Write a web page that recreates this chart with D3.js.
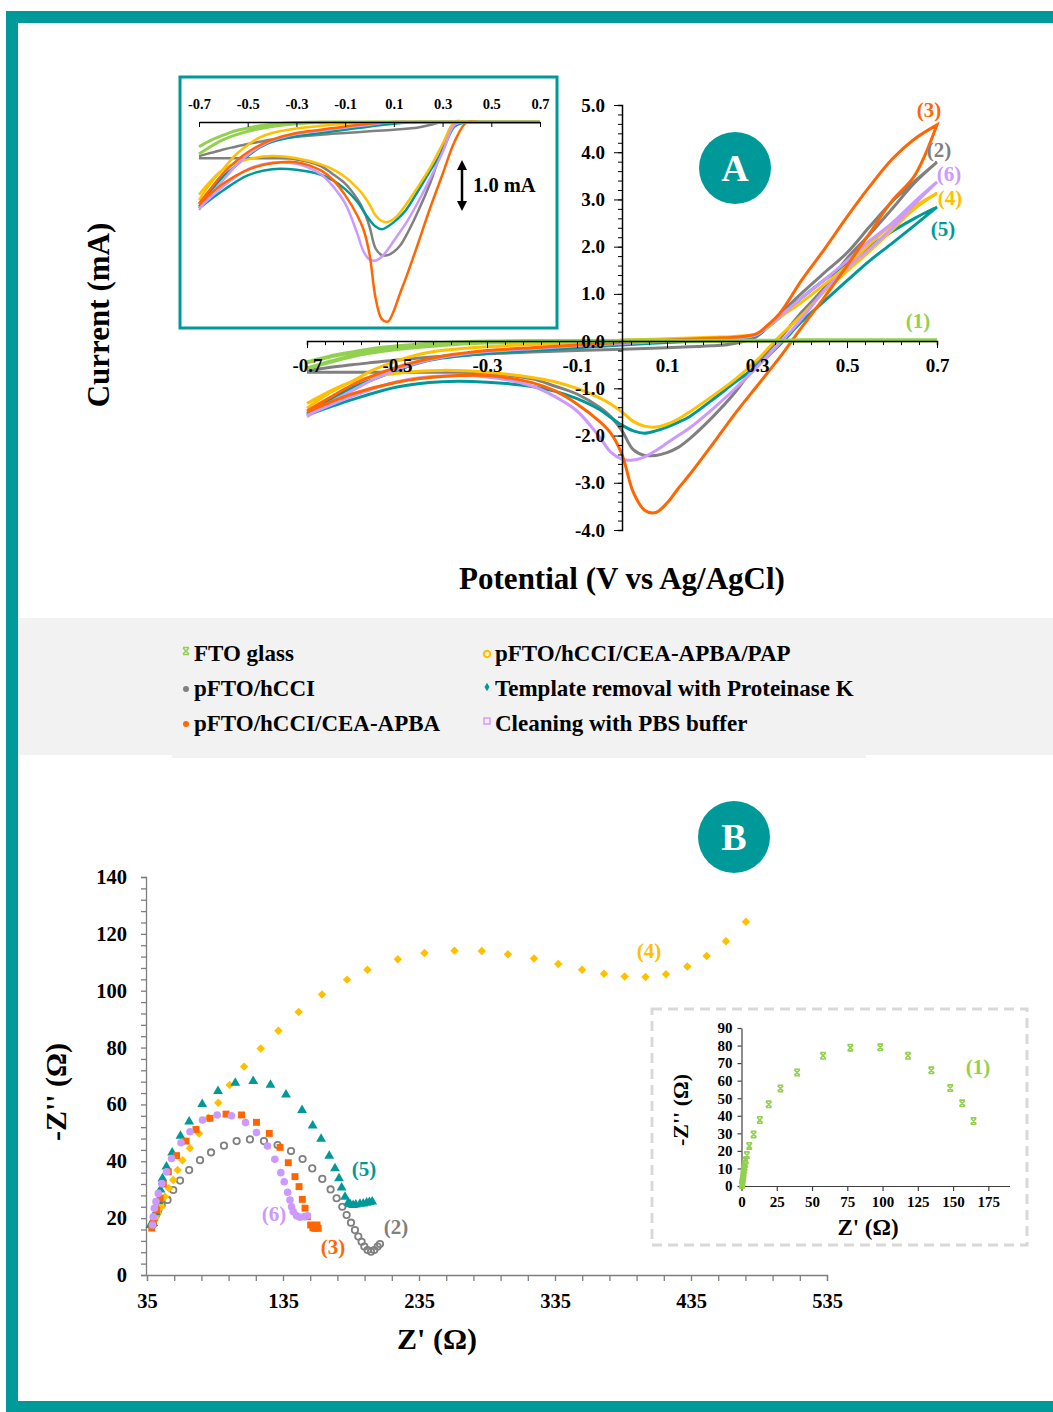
<!DOCTYPE html>
<html>
<head>
  <meta charset="utf-8">
  <script src="https://d3js.org/d3.v7.min.js"></script>
  <style>
    body { margin: 0; background: #fff; }
    text { font-family: "Liberation Serif", "Times New Roman", serif; font-weight: bold; }
  </style>
</head>
<body>
  <script>
    // ---- CV data (potential in V, current in mA) ----
    const cvFwdV = [-0.7,-0.65,-0.6,-0.55,-0.5,-0.45,-0.4,-0.3,-0.2,-0.1,0,0.1,0.2,0.25,0.3,0.325,0.35,0.4,0.45,0.5,0.55,0.6,0.65,0.7];
    const cvRevV = [0.7,0.65,0.6,0.55,0.5,0.45,0.4,0.35,0.3,0.25,0.2,0.15,0.125,0.1,0.075,0.05,0.025,0,-0.025,-0.05,-0.1,-0.15,-0.2,-0.3,-0.4,-0.5,-0.6,-0.7];

    const fwdFTO = [-0.45,-0.33,-0.24,-0.16,-0.11,-0.07,-0.04,-0.01,0,0,0.01,0.01,0.01,0.01,0.01,0.01,0.01,0.01,0.02,0.02,0.02,0.02,0.02,0.02];
    const revFTO = [0.02,0.02,0.02,0.02,0.02,0.02,0.02,0.01,0.01,0.01,0.01,0.01,0.01,0.01,0.01,0.01,0.01,0.01,0,0,0,0,-0.01,-0.03,-0.08,-0.17,-0.32,-0.58];
    const fwdHCCI = [-0.62,-0.56,-0.5,-0.45,-0.4,-0.36,-0.32,-0.27,-0.23,-0.2,-0.17,-0.14,-0.1,-0.05,0.1,0.33,0.56,1.02,1.45,1.87,2.42,2.95,3.38,3.79];
    const revHCCI = [3.79,3.35,2.8,2.26,1.75,1.13,0.62,0.05,-0.47,-1.1,-1.62,-2.07,-2.25,-2.36,-2.42,-2.42,-2.3,-1.9,-1.6,-1.4,-1.12,-0.95,-0.8,-0.68,-0.66,-0.66,-0.66,-0.66];
    const fwdAPBA = [-1.48,-1.2,-0.93,-0.72,-0.55,-0.42,-0.32,-0.2,-0.14,-0.08,-0.03,0.02,0.06,0.08,0.16,0.35,0.58,1.3,1.95,2.63,3.27,3.85,4.28,4.58];
    const revAPBA = [4.58,3.5,2.97,2.28,1.6,0.93,0.3,-0.35,-0.95,-1.55,-2.2,-2.83,-3.12,-3.43,-3.63,-3.58,-3.2,-2.4,-1.95,-1.7,-1.33,-1.05,-0.88,-0.73,-0.75,-0.87,-1.12,-1.5];
    const fwdPAP = [-1.42,-1.1,-0.85,-0.6,-0.42,-0.28,-0.2,-0.12,-0.07,-0.03,0.02,0.05,0.08,0.1,0.15,0.3,0.5,0.83,1.2,1.6,2.05,2.48,2.85,3.13];
    const revPAP = [3.13,2.8,2.35,1.9,1.48,1.05,0.55,0.1,-0.4,-0.82,-1.17,-1.5,-1.65,-1.76,-1.82,-1.8,-1.7,-1.5,-1.33,-1.2,-1.0,-0.86,-0.77,-0.66,-0.62,-0.68,-0.86,-1.32];
    const fwdProtK = [-1.54,-1.25,-0.99,-0.8,-0.62,-0.46,-0.36,-0.26,-0.2,-0.14,-0.08,-0.03,0.02,0.05,0.12,0.3,0.5,0.92,1.3,1.65,2.0,2.32,2.6,2.84];
    const revProtK = [2.84,2.45,2.07,1.7,1.28,0.85,0.42,-0.08,-0.52,-0.88,-1.25,-1.6,-1.72,-1.82,-1.9,-1.95,-1.9,-1.78,-1.62,-1.45,-1.22,-1.06,-0.96,-0.87,-0.86,-0.97,-1.24,-1.57];
    const fwdPBS = [-1.6,-1.3,-1.05,-0.8,-0.6,-0.45,-0.34,-0.22,-0.16,-0.1,-0.05,0,0.04,0.06,0.14,0.32,0.52,0.92,1.3,1.7,2.12,2.5,2.95,3.37];
    const revPBS = [3.37,2.9,2.4,1.95,1.55,1.08,0.48,-0.05,-0.55,-1.02,-1.45,-1.84,-2.0,-2.16,-2.32,-2.45,-2.52,-2.5,-2.35,-2.03,-1.48,-1.17,-0.95,-0.76,-0.74,-0.86,-1.17,-1.57];

    const cvTicksX = [-0.7,-0.5,-0.3,-0.1,0.1,0.3,0.5,0.7];
    const cvTicksY = [-4,-3,-2,-1,0,1,2,3,4,5];

    // ---- EIS data (Z', -Z'' in ohm) ----
    const eisFTO = [[0.3,0.5],[0.5,1.5],[0.7,2.6],[0.9,3.7],[1.1,4.9],[1.3,6.2],[1.5,7.6],[1.8,9.1],[2.1,10.7],[2.5,12.5],[3.0,14.5],[3.8,17.6],[5.5,22.8],[8.6,29.4],[13,37.6],[19.3,46.5],[27.6,55.6],[39.4,64.7],[57.8,74.2],[77.2,78.8],[98.4,79.0],[118,74.2],[134.6,65.9],[148,55.8],[156.5,47.1],[164.5,37.0]];
    const eisHCCI = [[39.1,17.6],[40.4,19.9],[41.6,21.1],[43.3,22.9],[45.8,24.6],[50.1,26.4],[54.3,29.9],[59.3,33.2],[66.0,36.9],[74.0,40.4],[82.1,43.1],[91.6,45.5],[100.9,47.1],[110.7,47.7],[121.0,47.1],[131.0,45.7],[140.9,43.6],[149.4,40.8],[156.5,37.5],[163.9,33.8],[170.0,30.1],[174.4,27.0],[178.6,24.0],[181.8,21.1],[185.0,18.4],[187.9,15.8],[190.4,13.5],[192.8,11.7],[194.8,10.0],[197.2,8.8],[199.7,8.2],[202.1,8.8],[204.6,10.0],[206.3,10.9]];
    const eisAPBA = [[38.5,16.5],[39.6,18.2],[42.1,22.9],[44.6,27.0],[47.0,32.0],[50.7,36.3],[56.7,42.0],[63.7,47.1],[71.0,51.2],[81.3,55.1],[93.1,56.6],[104.5,56.3],[115.5,53.7],[124.9,49.8],[132.8,44.9],[138.9,39.5],[143.8,34.6],[146.8,31.1],[149.2,26.6],[151.2,23.5],[152.9,20.5],[155.3,17.6],[157.0,16.6],[158.5,16.4],[160.9,16.4],[160.0,17.6]];
    const eisPAP = [[38.5,17.0],[39.6,18.7],[41.2,20.2],[43.3,21.7],[45.8,24.0],[48.2,27.5],[51.1,30.5],[54.3,33.4],[57.5,36.9],[61.1,40.4],[66.6,44.6],[73.3,49.8],[80.2,55.3],[87.4,60.6],[95.8,66.8],[106.4,73.3],[118.6,79.7],[131.6,85.9],[146.5,92.5],[163.7,98.7],[182.1,103.9],[197.1,107.4],[219.4,111.1],[239.0,113.3],[261.1,114.1],[281.2,114.0],[300.4,112.8],[319.6,111.3],[337.4,109.4],[354.9,107.4],[371.0,106.0],[386.2,105.0],[401.6,104.8],[416.6,105.8],[432.3,108.5],[446.5,112.2],[460.7,117.4],[475.4,124.3]];
    const eisProtK = [[37.5,17.5],[39.6,18.2],[41.5,22.0],[43.3,26.0],[44.9,30.0],[46.4,34.0],[49.3,38.1],[53.5,43.0],[59.6,48.9],[66.0,53.9],[75.6,60.1],[87.2,64.7],[99.9,67.6],[113.1,68.2],[125.8,66.9],[137.2,63.4],[149.0,58.0],[156.8,52.5],[163.0,47.9],[169.0,41.9],[173.2,37.5],[176.2,34.0],[178.1,30.7],[180.6,27.5],[183.0,25.4],[184.5,24.8],[186.6,24.6],[188.5,24.7],[191.6,25.0],[194.0,25.1],[196.5,25.4],[198.5,25.6],[200.6,25.8]];
    const eisPBS = [[39.1,17.6],[39.6,20.5],[40.4,23.5],[41.6,25.8],[43.3,28.7],[45.8,32.2],[49.4,36.3],[53.1,41.0],[60.0,46.5],[66.6,50.4],[75.8,54.5],[86.6,56.3],[97.1,56.0],[107.4,53.6],[115.5,50.1],[123.6,45.4],[129.0,40.7],[133.4,36.0],[135.9,32.8],[138.4,29.1],[140.1,26.4],[141.3,24.0],[142.5,22.3],[145.0,20.8],[147.5,20.3],[150.4,20.5],[152.9,20.8]];

    const eisTicksX = [35,135,235,335,435,535];
    const eisTicksY = [0,20,40,60,80,100,120,140];
    const insetTicksX = [0,25,50,75,100,125,150,175];
    const insetTicksY = [0,10,20,30,40,50,60,70,80,90];

    const legendNames = ["FTO glass","pFTO/hCCI","pFTO/hCCI/CEA-APBA","pFTO/hCCI/CEA-APBA/PAP","Template removal with Proteinase K","Cleaning with PBS buffer"];
    const colors = ["#92d050","#808080","#ff6600","#ffc000","#009999","#cc99ff"];
    const teal = "#009999";

    const cvSeries = [
      {id: 1, fwd: fwdFTO, rev: revFTO},
      {id: 2, fwd: fwdHCCI, rev: revHCCI},
      {id: 3, fwd: fwdAPBA, rev: revAPBA},
      {id: 4, fwd: fwdPAP, rev: revPAP},
      {id: 5, fwd: fwdProtK, rev: revProtK},
      {id: 6, fwd: fwdPBS, rev: revPBS}
    ].map(s => ({
      id: s.id,
      color: colors[s.id - 1],
      pts: cvFwdV.map((v, i) => [v, s.fwd[i]]).concat(cvRevV.map((v, i) => [v, s.rev[i]]))
    }));
    const drawOrder = [2, 5, 4, 6, 3, 1];

    // plain hyphen minus, like the original
    const fmt1 = d => d.toFixed(1);
    const boldText = g => g.selectAll("text").attr("fill", "#000")
      .style("font-family", "Liberation Serif").style("font-weight", "bold");

    const W = 1053, H = 1412;
    const svg = d3.select("body").append("svg")
      .attr("width", W).attr("height", H);

    svg.append("rect").attr("width", W).attr("height", H).attr("fill", "#fff");

    // frame
    svg.append("rect")
      .attr("x", 12).attr("y", 17).attr("width", W + 20).attr("height", 1390)
      .attr("fill", "none").attr("stroke", teal).attr("stroke-width", 12);

    // legend band
    svg.append("rect").attr("x", 18).attr("y", 618).attr("width", W - 18).attr("height", 137).attr("fill", "#f2f2f2");
    svg.append("rect").attr("x", 172).attr("y", 700).attr("width", 694).attr("height", 58).attr("fill", "#f2f2f2");

    // ================= Panel A: CV =================
    const xCV = d3.scaleLinear().domain([-0.7, 0.7]).range([307, 937]);
    const yCV = d3.scaleLinear().domain([-4, 5]).range([530, 105]);
    const lineCV = d3.line()
      .x(d => xCV(d[0])).y(d => yCV(d[1]))
      .curve(d3.curveCatmullRom.alpha(0.5));

    const gCV = svg.append("g");
    drawOrder.forEach(id => {
      const s = cvSeries[id - 1];
      gCV.append("path")
        .attr("d", lineCV(s.pts))
        .attr("fill", "none")
        .attr("stroke", s.color)
        .attr("stroke-width", id === 1 ? 4 : 3);
    });

    // x axis (at I = 0)
    const minorX = d3.range(-0.7, 0.7001, 0.04);
    svg.append("g")
      .attr("transform", `translate(0,${yCV(0)})`)
      .call(d3.axisBottom(xCV).tickValues(minorX).tickSize(4).tickFormat(""))
      .call(g => g.select(".domain").attr("stroke", "#000").attr("stroke-width", 1.5));
    svg.append("g")
      .attr("transform", `translate(0,${yCV(0)})`)
      .call(d3.axisBottom(xCV).tickValues(cvTicksX).tickSize(7).tickPadding(10).tickFormat(fmt1))
      .call(g => g.select(".domain").remove())
      .call(boldText)
      .call(g => g.selectAll("text").attr("font-size", 19));

    // y axis (at V = 0)
    const minorY = d3.range(-4, 5.001, 0.2);
    svg.append("g")
      .attr("transform", `translate(${xCV(0)},0)`)
      .call(d3.axisLeft(yCV).tickValues(minorY).tickSize(4).tickFormat(""))
      .call(g => g.select(".domain").attr("stroke", "#000").attr("stroke-width", 1.5));
    svg.append("g")
      .attr("transform", `translate(${xCV(0)},0)`)
      .call(d3.axisLeft(yCV).tickValues(cvTicksY).tickSize(8).tickPadding(9).tickFormat(fmt1))
      .call(g => g.select(".domain").remove())
      .call(boldText)
      .call(g => g.selectAll("text").attr("font-size", 19));

    svg.append("text")
      .attr("transform", "translate(109,315) rotate(-90)")
      .attr("text-anchor", "middle").attr("font-size", 31).text("Current (mA)");
    svg.append("text")
      .attr("x", 622).attr("y", 589)
      .attr("text-anchor", "middle").attr("font-size", 31).text("Potential (V vs Ag/AgCl)");

    // curve labels
    const cvLabels = [
      {id: 3, x: 929, y: 110}, {id: 2, x: 939, y: 150}, {id: 6, x: 949, y: 174},
      {id: 4, x: 950, y: 198}, {id: 5, x: 943, y: 229}, {id: 1, x: 918, y: 321}
    ];
    svg.selectAll(".cvlab").data(cvLabels).enter().append("text")
      .attr("x", d => d.x).attr("y", d => d.y + 7)
      .attr("text-anchor", "middle").attr("font-size", 21)
      .attr("fill", d => colors[d.id - 1])
      .text(d => `(${d.id})`);

    // badge A
    svg.append("circle").attr("cx", 735).attr("cy", 168).attr("r", 36).attr("fill", teal);
    svg.append("text").attr("x", 735).attr("y", 181).attr("text-anchor", "middle")
      .attr("font-size", 38).attr("fill", "#fff").text("A");

    // ---- inset CV ----
    svg.append("rect")
      .attr("x", 180).attr("y", 77).attr("width", 377).attr("height", 251)
      .attr("fill", "#fff").attr("stroke", teal).attr("stroke-width", 3);
    const xIn = d3.scaleLinear().domain([-0.7, 0.7]).range([199, 540]);
    const yIn = d3.scaleLinear().domain([-3.7, 0]).range([325.5, 122]);
    const lineIn = d3.line()
      .x(d => xIn(d[0])).y(d => yIn(Math.min(d[1], 0)))
      .curve(d3.curveCatmullRom.alpha(0.5));
    drawOrder.forEach(id => {
      const s = cvSeries[id - 1];
      svg.append("path")
        .attr("d", lineIn(s.pts))
        .attr("fill", "none")
        .attr("stroke", s.color)
        .attr("stroke-width", id === 1 ? 3 : 2.5);
    });
    svg.append("g")
      .attr("transform", `translate(0,${yIn(0)})`)
      .call(d3.axisTop(xIn).tickValues(cvTicksX).tickSizeInner(-5).tickSizeOuter(0).tickPadding(13).tickFormat(fmt1))
      .call(g => g.select(".domain").attr("stroke", "#000").attr("stroke-width", 1.5))
      .call(boldText)
      .call(g => g.selectAll("text").attr("font-size", 14.5));
    svg.append("defs").append("marker")
      .attr("id", "arr").attr("viewBox", "0 0 10 10").attr("refX", 5).attr("refY", 5)
      .attr("markerWidth", 4).attr("markerHeight", 4).attr("orient", "auto-start-reverse")
      .append("path").attr("d", "M0,0L10,5L0,10z").attr("fill", "#000");
    svg.append("line")
      .attr("x1", 462).attr("x2", 462).attr("y1", 165).attr("y2", 206)
      .attr("stroke", "#000").attr("stroke-width", 2.5)
      .attr("marker-start", "url(#arr)").attr("marker-end", "url(#arr)");
    svg.append("text").attr("x", 473).attr("y", 192).attr("font-size", 20.5).text("1.0 mA");

    // ================= Legend =================
    const legendPos = [
      {x: 186, y: 653}, {x: 186, y: 688}, {x: 186, y: 723},
      {x: 487, y: 653}, {x: 487, y: 688}, {x: 487, y: 723}
    ];
    const gLeg = svg.append("g");
    legendPos.forEach((p, i) => {
      const c = colors[i];
      if (i === 0) {
        gLeg.append("path").attr("transform", `translate(${p.x},${p.y - 2})`)
          .attr("d", "M-3,-3L3,3M-3,3L3,-3M-3,-3.5H3M-3,3.5H3")
          .attr("stroke", c).attr("stroke-width", 1.6).attr("fill", "none");
      } else if (i === 1 || i === 2) {
        gLeg.append("circle").attr("cx", p.x).attr("cy", p.y + 1).attr("r", 3).attr("fill", c);
      } else if (i === 3) {
        gLeg.append("circle").attr("cx", p.x).attr("cy", p.y + 1).attr("r", 3.2)
          .attr("fill", "#fff3c0").attr("stroke", c).attr("stroke-width", 2);
      } else if (i === 4) {
        gLeg.append("path").attr("transform", `translate(${p.x},${p.y - 1})`)
          .attr("d", d3.symbol(d3.symbolDiamond, 22)()).attr("fill", c);
      } else {
        gLeg.append("rect").attr("x", p.x - 3).attr("y", p.y - 5).attr("width", 6).attr("height", 6)
          .attr("fill", "#f6eeff").attr("stroke", c).attr("stroke-width", 1.4);
      }
      gLeg.append("text").attr("x", p.x + 8).attr("y", p.y + 8)
        .attr("font-size", 23).attr("fill", "#000").text(legendNames[i]);
    });

    // ================= Panel B: Nyquist =================
    svg.append("circle").attr("cx", 734).attr("cy", 837).attr("r", 36).attr("fill", teal);
    svg.append("text").attr("x", 734).attr("y", 850).attr("text-anchor", "middle")
      .attr("font-size", 38).attr("fill", "#fff").text("B");

    const xN = d3.scaleLinear().domain([35, 535]).range([147, 827]);
    const yN = d3.scaleLinear().domain([0, 140]).range([1275, 877]);
    const axisGray = "#7f7f7f";

    svg.append("g")
      .attr("transform", `translate(0,${yN(0)})`)
      .call(d3.axisBottom(xN).tickValues(d3.range(35, 536, 20)).tickSize(6).tickFormat(""))
      .call(g => g.selectAll("line,path").attr("stroke", axisGray).attr("stroke-width", 1.3));
    svg.append("g")
      .attr("transform", `translate(0,${yN(0)})`)
      .call(d3.axisBottom(xN).tickValues(eisTicksX).tickSize(0).tickPadding(18))
      .call(g => g.select(".domain").remove())
      .call(boldText)
      .call(g => g.selectAll("text").attr("font-size", 20.5));
    svg.append("g")
      .attr("transform", `translate(${xN(35) - 1},0)`)
      .call(d3.axisLeft(yN).tickValues(d3.range(0, 141, 4)).tickSize(5).tickFormat(""))
      .call(g => g.selectAll("line,path").attr("stroke", axisGray).attr("stroke-width", 1.3));
    svg.append("g")
      .attr("transform", `translate(${xN(35) - 1},0)`)
      .call(d3.axisLeft(yN).tickValues(eisTicksY).tickSize(0).tickPadding(19))
      .call(g => g.select(".domain").remove())
      .call(boldText)
      .call(g => g.selectAll("text").attr("font-size", 20.5));

    svg.append("text")
      .attr("transform", "translate(66,1092) rotate(-90)")
      .attr("text-anchor", "middle").attr("font-size", 30).text("-Z'' (Ω)");
    svg.append("text")
      .attr("x", 437).attr("y", 1349)
      .attr("text-anchor", "middle").attr("font-size", 30).text("Z' (Ω)");

    const gN = svg.append("g");
    // (2) open circles
    gN.selectAll(".p2").data(eisHCCI).enter().append("circle")
      .attr("cx", d => xN(d[0])).attr("cy", d => yN(d[1])).attr("r", 3.2)
      .attr("fill", "none").attr("stroke", colors[1]).attr("stroke-width", 1.8);
    // (4) diamonds
    gN.selectAll(".p4").data(eisPAP).enter().append("path")
      .attr("transform", d => `translate(${xN(d[0])},${yN(d[1])}) rotate(45)`)
      .attr("d", d3.symbol(d3.symbolSquare, 36)()).attr("fill", colors[3]);
    // (5) triangles
    gN.selectAll(".p5").data(eisProtK).enter().append("path")
      .attr("transform", d => `translate(${xN(d[0])},${yN(d[1])})`)
      .attr("d", d3.symbol(d3.symbolTriangle, 42)()).attr("fill", colors[4]);
    // (3) squares
    gN.selectAll(".p3").data(eisAPBA).enter().append("path")
      .attr("transform", d => `translate(${xN(d[0])},${yN(d[1])})`)
      .attr("d", d3.symbol(d3.symbolSquare, 48)()).attr("fill", colors[2]);
    // (6) filled circles
    gN.selectAll(".p6").data(eisPBS).enter().append("circle")
      .attr("cx", d => xN(d[0])).attr("cy", d => yN(d[1])).attr("r", 3.8)
      .attr("fill", colors[5]);

    const eisLabels = [
      {id: 4, x: 649, y: 951}, {id: 5, x: 364, y: 1169}, {id: 6, x: 274, y: 1214},
      {id: 3, x: 333, y: 1247}, {id: 2, x: 396, y: 1227}
    ];
    svg.selectAll(".eislab").data(eisLabels).enter().append("text")
      .attr("x", d => d.x).attr("y", d => d.y + 7)
      .attr("text-anchor", "middle").attr("font-size", 21)
      .attr("fill", d => colors[d.id - 1])
      .text(d => `(${d.id})`);

    // ---- inset Nyquist (FTO glass) ----
    svg.append("rect")
      .attr("x", 652).attr("y", 1009).attr("width", 375).attr("height", 236)
      .attr("fill", "#fff").attr("stroke", "#d9d9d9").attr("stroke-width", 3)
      .attr("stroke-dasharray", "10,6");
    const xNi = d3.scaleLinear().domain([0, 190]).range([741.5, 1009.5]);
    const yNi = d3.scaleLinear().domain([0, 90]).range([1186, 1028]);
    svg.append("g")
      .attr("transform", `translate(0,${yNi(0)})`)
      .call(d3.axisBottom(xNi).tickValues(insetTicksX).tickSizeInner(5).tickSizeOuter(0).tickPadding(5))
      .call(g => g.selectAll("line,path").attr("stroke", "#404040").attr("stroke-width", 1.2))
      .call(boldText)
      .call(g => g.selectAll("text").attr("font-size", 15));
    svg.append("g")
      .attr("transform", `translate(${xNi(0)},0)`)
      .call(d3.axisLeft(yNi).tickValues(insetTicksY).tickSizeInner(4).tickSizeOuter(0).tickPadding(5))
      .call(g => g.selectAll("line,path").attr("stroke", "#404040").attr("stroke-width", 1.2))
      .call(boldText)
      .call(g => g.selectAll("text").attr("font-size", 15));
    svg.append("text")
      .attr("transform", "translate(688,1110) rotate(-90)")
      .attr("text-anchor", "middle").attr("font-size", 22).text("-Z'' (Ω)");
    svg.append("text")
      .attr("x", 868).attr("y", 1235)
      .attr("text-anchor", "middle").attr("font-size", 23).text("Z' (Ω)");
    svg.selectAll(".p1").data(eisFTO).enter().append("path")
      .attr("transform", d => `translate(${xNi(d[0])},${yNi(d[1])})`)
      .attr("d", "M-2.8,-2.8L2.8,2.8M-2.8,2.8L2.8,-2.8M-2.8,-3.2H2.8M-2.8,3.2H2.8")
      .attr("stroke", colors[0]).attr("stroke-width", 1.6).attr("fill", "none");
    svg.append("text").attr("x", 978).attr("y", 1074).attr("text-anchor", "middle")
      .attr("font-size", 21).attr("fill", colors[0]).text("(1)");
  </script>
</body>
</html>
